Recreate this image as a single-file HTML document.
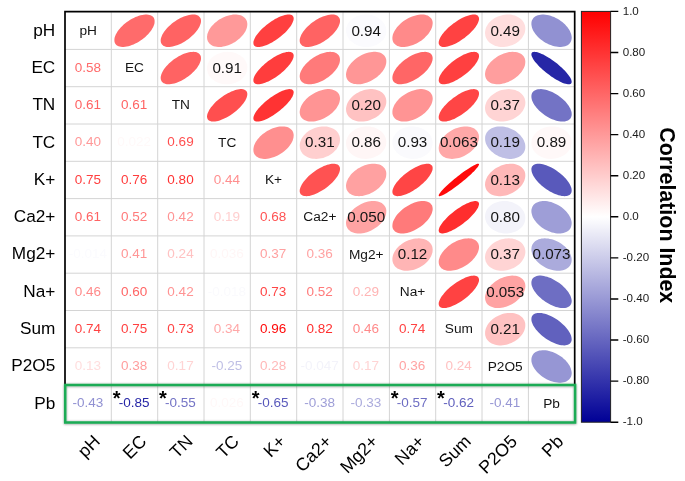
<!DOCTYPE html><html><head><meta charset="utf-8"><title>Correlation Plot</title>
<style>html,body{margin:0;padding:0;background:#fff}svg{display:block}text{font-family:"Liberation Sans",Arial,sans-serif}</style></head><body>
<svg width="685" height="481" viewBox="0 0 685 481">
<rect width="685" height="481" fill="#fff"/>
<defs><linearGradient id="cb" x1="0" y1="0" x2="0" y2="1"><stop offset="0" stop-color="#ff0000"/><stop offset="0.5" stop-color="#ffffff"/><stop offset="1" stop-color="#000096"/></linearGradient><filter id="sh" x="-5%" y="-30%" width="110%" height="160%"><feDropShadow dx="0" dy="0.4" stdDeviation="1.3" flood-color="#000" flood-opacity="0.45"/></filter></defs>
<path d="M111.3,12.1V422.4M65.0,49.4H574.7M157.7,12.1V422.4M65.0,86.7H574.7M204.0,12.1V422.4M65.0,124.0H574.7M250.3,12.1V422.4M65.0,161.3H574.7M296.7,12.1V422.4M65.0,198.6H574.7M343.0,12.1V422.4M65.0,235.9H574.7M389.4,12.1V422.4M65.0,273.2H574.7M435.7,12.1V422.4M65.0,310.5H574.7M482.0,12.1V422.4M65.0,347.8H574.7M528.4,12.1V422.4M65.0,385.1H574.7" stroke="#d4d4d4" stroke-width="1" fill="none"/>
<polygon points="152.4,16.3 151.5,15.7 150.5,15.3 149.4,14.9 148.2,14.7 146.8,14.5 145.4,14.5 143.9,14.7 142.3,14.9 140.6,15.3 138.9,15.8 137.2,16.4 135.5,17.1 133.7,17.9 132.0,18.8 130.2,19.8 128.5,20.9 126.9,22.1 125.3,23.3 123.7,24.6 122.3,25.9 120.9,27.3 119.7,28.7 118.6,30.1 117.5,31.5 116.7,32.9 115.9,34.3 115.3,35.7 114.8,37.0 114.5,38.3 114.4,39.5 114.4,40.7 114.5,41.8 114.8,42.8 115.3,43.7 115.9,44.5 116.6,45.2 117.5,45.8 118.5,46.2 119.6,46.6 120.8,46.8 122.2,47.0 123.6,47.0 125.1,46.8 126.7,46.6 128.4,46.2 130.1,45.7 131.8,45.1 133.5,44.4 135.3,43.6 137.1,42.7 138.8,41.7 140.5,40.6 142.1,39.4 143.7,38.2 145.3,36.9 146.7,35.6 148.1,34.2 149.3,32.8 150.4,31.4 151.5,30.0 152.3,28.6 153.1,27.2 153.7,25.8 154.2,24.5 154.5,23.2 154.6,22.0 154.6,20.8 154.5,19.7 154.2,18.7 153.8,17.8 153.2,17.0" fill="#ff6b6b"/>
<polygon points="198.9,16.2 198.1,15.6 197.1,15.2 196.0,14.8 194.8,14.6 193.5,14.5 192.1,14.6 190.5,14.7 189.0,15.0 187.3,15.4 185.6,15.9 183.9,16.5 182.2,17.3 180.4,18.1 178.7,19.0 176.9,20.1 175.2,21.2 173.6,22.3 171.9,23.6 170.4,24.9 168.9,26.2 167.6,27.6 166.3,29.0 165.1,30.4 164.1,31.8 163.2,33.2 162.4,34.6 161.8,36.0 161.3,37.3 160.9,38.6 160.7,39.8 160.7,40.9 160.8,42.0 161.1,43.0 161.5,43.8 162.0,44.6 162.8,45.3 163.6,45.9 164.6,46.3 165.7,46.7 166.9,46.9 168.2,47.0 169.6,46.9 171.1,46.8 172.7,46.5 174.3,46.1 176.0,45.6 177.8,45.0 179.5,44.2 181.3,43.4 183.0,42.5 184.8,41.4 186.5,40.3 188.1,39.2 189.7,37.9 191.3,36.6 192.7,35.3 194.1,33.9 195.4,32.5 196.6,31.1 197.6,29.7 198.5,28.3 199.3,26.9 199.9,25.5 200.4,24.2 200.8,22.9 201.0,21.7 201.0,20.6 200.9,19.5 200.6,18.5 200.2,17.7 199.6,16.9" fill="#ff6363"/>
<polygon points="244.0,17.2 243.0,16.5 241.9,15.8 240.6,15.3 239.2,15.0 237.8,14.7 236.3,14.5 234.7,14.5 233.0,14.6 231.3,14.9 229.6,15.2 227.8,15.7 226.0,16.3 224.3,17.0 222.6,17.8 220.9,18.7 219.2,19.6 217.6,20.7 216.1,21.9 214.7,23.1 213.4,24.4 212.1,25.7 211.0,27.0 210.0,28.4 209.2,29.8 208.5,31.3 207.9,32.7 207.4,34.1 207.2,35.4 207.0,36.8 207.1,38.1 207.2,39.3 207.6,40.5 208.0,41.6 208.7,42.6 209.4,43.5 210.3,44.3 211.3,45.0 212.5,45.7 213.7,46.2 215.1,46.5 216.6,46.8 218.1,47.0 219.7,47.0 221.4,46.9 223.1,46.6 224.8,46.3 226.5,45.8 228.3,45.2 230.1,44.5 231.8,43.7 233.5,42.8 235.1,41.9 236.7,40.8 238.2,39.6 239.6,38.4 241.0,37.1 242.2,35.8 243.3,34.5 244.3,33.1 245.2,31.7 245.9,30.2 246.5,28.8 246.9,27.4 247.2,26.1 247.3,24.7 247.3,23.4 247.1,22.2 246.8,21.0 246.3,19.9 245.7,18.9 244.9,18.0" fill="#ff9999"/>
<polygon points="292.4,15.6 291.7,15.1 290.8,14.8 289.9,14.6 288.8,14.5 287.6,14.6 286.3,14.7 284.9,15.0 283.4,15.4 281.8,16.0 280.2,16.6 278.5,17.3 276.8,18.2 275.0,19.1 273.3,20.2 271.5,21.3 269.8,22.5 268.1,23.7 266.4,25.0 264.8,26.4 263.2,27.7 261.8,29.1 260.4,30.6 259.1,32.0 257.9,33.4 256.9,34.8 255.9,36.1 255.1,37.4 254.5,38.7 254.0,39.9 253.6,41.0 253.4,42.1 253.4,43.1 253.5,43.9 253.7,44.7 254.1,45.4 254.7,45.9 255.4,46.4 256.2,46.7 257.1,46.9 258.2,47.0 259.4,46.9 260.7,46.8 262.2,46.5 263.7,46.1 265.2,45.5 266.9,44.9 268.5,44.2 270.3,43.3 272.0,42.4 273.8,41.3 275.5,40.2 277.3,39.0 279.0,37.8 280.6,36.5 282.3,35.1 283.8,33.8 285.3,32.4 286.7,30.9 287.9,29.5 289.1,28.1 290.2,26.7 291.1,25.4 291.9,24.1 292.5,22.8 293.0,21.6 293.4,20.5 293.6,19.4 293.7,18.4 293.6,17.6 293.3,16.8 292.9,16.1" fill="#ff4040"/>
<polygon points="337.9,16.2 337.1,15.6 336.1,15.2 335.0,14.8 333.8,14.6 332.5,14.5 331.1,14.6 329.6,14.7 328.0,15.0 326.3,15.4 324.7,15.9 322.9,16.5 321.2,17.3 319.4,18.1 317.7,19.0 315.9,20.1 314.2,21.2 312.6,22.3 310.9,23.6 309.4,24.9 307.9,26.2 306.6,27.6 305.3,29.0 304.1,30.4 303.1,31.8 302.2,33.2 301.4,34.6 300.8,36.0 300.3,37.3 299.9,38.6 299.7,39.8 299.7,40.9 299.8,42.0 300.1,43.0 300.5,43.8 301.1,44.6 301.8,45.3 302.6,45.9 303.6,46.3 304.7,46.7 305.9,46.9 307.2,47.0 308.6,46.9 310.1,46.8 311.7,46.5 313.4,46.1 315.0,45.6 316.8,45.0 318.5,44.2 320.3,43.4 322.0,42.5 323.8,41.4 325.5,40.3 327.1,39.2 328.8,37.9 330.3,36.6 331.8,35.3 333.1,33.9 334.4,32.5 335.6,31.1 336.6,29.7 337.5,28.3 338.3,26.9 338.9,25.5 339.4,24.2 339.8,22.9 340.0,21.7 340.0,20.6 339.9,19.5 339.6,18.5 339.2,17.7 338.6,16.9" fill="#ff6363"/>
<polygon points="380.3,19.4 379.0,18.4 377.6,17.5 376.1,16.8 374.6,16.1 372.9,15.5 371.3,15.1 369.5,14.8 367.8,14.6 366.0,14.5 364.3,14.6 362.5,14.8 360.8,15.0 359.2,15.5 357.5,16.0 356.0,16.6 354.5,17.4 353.1,18.2 351.8,19.2 350.7,20.2 349.6,21.4 348.7,22.5 347.9,23.8 347.2,25.1 346.7,26.4 346.3,27.8 346.1,29.2 346.0,30.6 346.1,32.1 346.4,33.5 346.8,34.8 347.3,36.2 348.0,37.5 348.8,38.8 349.8,40.0 350.8,41.1 352.0,42.1 353.3,43.1 354.7,44.0 356.2,44.7 357.8,45.4 359.4,46.0 361.1,46.4 362.8,46.7 364.6,46.9 366.3,47.0 368.1,46.9 369.8,46.7 371.5,46.5 373.2,46.0 374.8,45.5 376.4,44.9 377.9,44.1 379.3,43.3 380.5,42.3 381.7,41.3 382.8,40.1 383.7,39.0 384.5,37.7 385.2,36.4 385.7,35.1 386.1,33.7 386.3,32.3 386.3,30.9 386.3,29.4 386.0,28.0 385.6,26.7 385.1,25.3 384.4,24.0 383.6,22.7 382.6,21.5 381.5,20.4" fill="#fbfbfe"/>
<polygon points="429.7,16.9 428.8,16.2 427.7,15.6 426.4,15.2 425.1,14.8 423.7,14.6 422.2,14.5 420.6,14.6 419.0,14.7 417.3,15.0 415.6,15.4 413.8,15.9 412.1,16.5 410.3,17.3 408.6,18.1 406.9,19.0 405.2,20.0 403.6,21.1 402.0,22.3 400.6,23.6 399.2,24.9 397.9,26.2 396.8,27.6 395.8,29.0 394.8,30.4 394.1,31.8 393.4,33.2 392.9,34.6 392.6,36.0 392.4,37.3 392.4,38.5 392.5,39.8 392.8,40.9 393.2,42.0 393.7,42.9 394.5,43.8 395.3,44.6 396.3,45.3 397.4,45.9 398.6,46.3 399.9,46.7 401.3,46.9 402.8,47.0 404.4,46.9 406.1,46.8 407.8,46.5 409.5,46.1 411.2,45.6 413.0,45.0 414.7,44.2 416.5,43.4 418.2,42.5 419.8,41.5 421.5,40.4 423.0,39.2 424.5,37.9 425.8,36.6 427.1,35.3 428.3,33.9 429.3,32.5 430.2,31.1 431.0,29.7 431.6,28.3 432.1,26.9 432.4,25.5 432.6,24.2 432.7,23.0 432.6,21.7 432.3,20.6 431.9,19.5 431.3,18.6 430.6,17.7" fill="#ff8a8a"/>
<polygon points="477.7,15.6 477.0,15.2 476.1,14.8 475.1,14.6 474.0,14.5 472.8,14.6 471.5,14.7 470.1,15.0 468.6,15.4 467.0,15.9 465.4,16.5 463.7,17.3 462.0,18.1 460.2,19.1 458.5,20.1 456.7,21.2 455.0,22.4 453.3,23.6 451.6,24.9 450.0,26.2 448.4,27.6 447.0,29.0 445.6,30.4 444.3,31.8 443.2,33.3 442.1,34.6 441.2,36.0 440.4,37.3 439.8,38.6 439.3,39.8 438.9,40.9 438.7,42.0 438.7,43.0 438.8,43.9 439.1,44.6 439.5,45.3 440.1,45.9 440.8,46.3 441.6,46.7 442.6,46.9 443.7,47.0 444.9,46.9 446.2,46.8 447.6,46.5 449.1,46.1 450.7,45.6 452.3,45.0 454.0,44.2 455.8,43.4 457.5,42.4 459.3,41.4 461.0,40.3 462.8,39.1 464.5,37.9 466.1,36.6 467.7,35.3 469.3,33.9 470.7,32.5 472.1,31.1 473.4,29.7 474.6,28.2 475.6,26.9 476.5,25.5 477.3,24.2 477.9,22.9 478.4,21.7 478.8,20.6 479.0,19.5 479.0,18.5 478.9,17.6 478.6,16.9 478.2,16.2" fill="#ff4242"/>
<polygon points="520.3,18.6 519.1,17.7 517.8,16.9 516.4,16.2 514.9,15.6 513.3,15.2 511.7,14.8 510.0,14.6 508.3,14.5 506.5,14.6 504.8,14.7 503.0,15.0 501.3,15.4 499.5,15.9 497.9,16.5 496.3,17.3 494.7,18.1 493.3,19.0 491.9,20.0 490.6,21.2 489.5,22.3 488.4,23.6 487.5,24.9 486.7,26.2 486.1,27.6 485.6,29.0 485.3,30.4 485.1,31.8 485.0,33.2 485.2,34.6 485.4,36.0 485.8,37.3 486.4,38.6 487.1,39.8 488.0,40.9 488.9,42.0 490.0,42.9 491.3,43.8 492.6,44.6 494.0,45.3 495.5,45.9 497.1,46.3 498.7,46.7 500.4,46.9 502.1,47.0 503.9,46.9 505.6,46.8 507.4,46.5 509.1,46.1 510.8,45.6 512.5,45.0 514.1,44.2 515.7,43.4 517.1,42.5 518.5,41.5 519.8,40.3 520.9,39.2 522.0,37.9 522.9,36.6 523.6,35.3 524.3,33.9 524.8,32.5 525.1,31.1 525.3,29.7 525.3,28.3 525.2,26.9 525.0,25.5 524.5,24.2 524.0,22.9 523.3,21.7 522.4,20.6 521.4,19.5" fill="#ffdede"/>
<polygon points="562.3,22.1 560.8,20.9 559.2,19.8 557.5,18.8 555.8,17.9 554.1,17.1 552.3,16.4 550.6,15.8 548.8,15.3 547.1,14.9 545.4,14.7 543.7,14.5 542.2,14.5 540.6,14.7 539.2,14.9 537.9,15.3 536.6,15.7 535.5,16.3 534.5,17.0 533.6,17.8 532.9,18.7 532.3,19.7 531.8,20.8 531.5,22.0 531.4,23.2 531.4,24.5 531.6,25.8 531.9,27.2 532.3,28.6 532.9,30.0 533.7,31.4 534.6,32.8 535.6,34.2 536.7,35.6 538.0,36.9 539.3,38.2 540.8,39.4 542.3,40.6 543.9,41.7 545.5,42.7 547.2,43.6 549.0,44.4 550.7,45.1 552.5,45.7 554.2,46.2 556.0,46.6 557.7,46.8 559.3,47.0 560.9,47.0 562.4,46.8 563.9,46.6 565.2,46.2 566.4,45.8 567.6,45.2 568.6,44.5 569.4,43.7 570.2,42.8 570.8,41.8 571.2,40.7 571.5,39.5 571.7,38.3 571.7,37.0 571.5,35.7 571.2,34.3 570.7,32.9 570.1,31.5 569.4,30.1 568.5,28.7 567.5,27.3 566.3,25.9 565.1,24.6 563.7,23.3" fill="#9191d2"/>
<polygon points="198.9,53.5 198.1,52.9 197.1,52.5 196.0,52.1 194.8,51.9 193.5,51.8 192.1,51.9 190.5,52.0 189.0,52.3 187.3,52.7 185.6,53.2 183.9,53.8 182.2,54.6 180.4,55.4 178.7,56.3 176.9,57.4 175.2,58.5 173.6,59.6 171.9,60.9 170.4,62.2 168.9,63.5 167.6,64.9 166.3,66.3 165.1,67.7 164.1,69.1 163.2,70.5 162.4,71.9 161.8,73.3 161.3,74.6 160.9,75.9 160.7,77.1 160.7,78.2 160.8,79.3 161.1,80.3 161.5,81.1 162.0,81.9 162.8,82.6 163.6,83.2 164.6,83.6 165.7,84.0 166.9,84.2 168.2,84.3 169.6,84.2 171.1,84.1 172.7,83.8 174.3,83.4 176.0,82.9 177.8,82.3 179.5,81.5 181.3,80.7 183.0,79.8 184.8,78.7 186.5,77.6 188.1,76.5 189.7,75.2 191.3,73.9 192.7,72.6 194.1,71.2 195.4,69.8 196.6,68.4 197.6,67.0 198.5,65.6 199.3,64.2 199.9,62.8 200.4,61.5 200.8,60.2 201.0,59.0 201.0,57.9 200.9,56.8 200.6,55.8 200.2,55.0 199.6,54.2" fill="#ff6363"/>
<polygon points="241.6,56.5 240.3,55.5 238.9,54.7 237.4,53.9 235.9,53.3 234.3,52.7 232.6,52.3 230.9,52.0 229.2,51.9 227.4,51.8 225.6,51.9 223.9,52.1 222.2,52.4 220.5,52.9 218.9,53.4 217.3,54.1 215.8,54.9 214.4,55.7 213.1,56.7 211.9,57.8 210.8,58.9 209.8,60.1 209.0,61.4 208.3,62.7 207.8,64.0 207.4,65.4 207.1,66.8 207.0,68.2 207.1,69.6 207.3,71.0 207.7,72.4 208.2,73.8 208.8,75.1 209.6,76.3 210.5,77.5 211.6,78.6 212.8,79.6 214.1,80.6 215.4,81.4 216.9,82.2 218.5,82.8 220.1,83.4 221.7,83.8 223.5,84.1 225.2,84.2 227.0,84.3 228.7,84.2 230.5,84.0 232.2,83.7 233.9,83.2 235.5,82.7 237.1,82.0 238.6,81.2 240.0,80.4 241.3,79.4 242.5,78.3 243.6,77.2 244.5,76.0 245.4,74.7 246.0,73.4 246.6,72.1 247.0,70.7 247.2,69.3 247.3,67.9 247.3,66.5 247.1,65.1 246.7,63.7 246.2,62.3 245.5,61.0 244.7,59.8 243.8,58.6 242.8,57.5" fill="#fff9f9"/>
<polygon points="292.4,52.8 291.7,52.4 290.9,52.1 290.0,51.9 288.9,51.8 287.7,51.9 286.4,52.1 285.0,52.4 283.5,52.8 281.9,53.3 280.3,54.0 278.6,54.7 276.9,55.6 275.2,56.5 273.4,57.6 271.7,58.7 269.9,59.9 268.2,61.1 266.5,62.4 264.9,63.8 263.4,65.2 261.9,66.6 260.5,68.0 259.2,69.4 258.0,70.8 256.9,72.2 256.0,73.5 255.2,74.8 254.5,76.1 254.0,77.3 253.6,78.4 253.4,79.5 253.4,80.4 253.4,81.3 253.7,82.1 254.1,82.7 254.6,83.3 255.3,83.7 256.1,84.0 257.1,84.2 258.1,84.3 259.3,84.2 260.6,84.0 262.0,83.7 263.5,83.3 265.1,82.8 266.7,82.1 268.4,81.4 270.1,80.5 271.9,79.6 273.6,78.5 275.4,77.4 277.1,76.2 278.8,75.0 280.5,73.7 282.1,72.3 283.7,70.9 285.2,69.5 286.5,68.1 287.8,66.7 289.0,65.3 290.1,63.9 291.0,62.6 291.8,61.3 292.5,60.0 293.0,58.8 293.4,57.7 293.6,56.6 293.7,55.7 293.6,54.8 293.3,54.0 293.0,53.4" fill="#ff3d3d"/>
<polygon points="337.4,53.9 336.5,53.3 335.4,52.7 334.3,52.3 333.0,52.0 331.6,51.9 330.1,51.8 328.6,51.9 327.0,52.1 325.3,52.4 323.6,52.9 321.8,53.4 320.1,54.1 318.3,54.9 316.6,55.7 314.9,56.7 313.2,57.8 311.5,58.9 310.0,60.1 308.5,61.4 307.1,62.7 305.8,64.0 304.6,65.4 303.5,66.8 302.5,68.2 301.7,69.7 301.0,71.1 300.4,72.4 300.0,73.8 299.8,75.1 299.7,76.3 299.8,77.5 300.0,78.6 300.3,79.7 300.8,80.6 301.5,81.4 302.3,82.2 303.2,82.8 304.3,83.4 305.4,83.8 306.7,84.1 308.1,84.2 309.6,84.3 311.1,84.2 312.7,84.0 314.4,83.7 316.1,83.2 317.9,82.7 319.6,82.0 321.4,81.2 323.1,80.4 324.8,79.4 326.5,78.3 328.2,77.2 329.7,76.0 331.2,74.7 332.6,73.4 333.9,72.1 335.1,70.7 336.2,69.3 337.2,67.9 338.0,66.4 338.7,65.0 339.3,63.7 339.7,62.3 339.9,61.0 340.0,59.8 339.9,58.6 339.7,57.5 339.4,56.4 338.9,55.5 338.2,54.7" fill="#ff7a7a"/>
<polygon points="383.1,54.4 382.1,53.7 381.0,53.1 379.7,52.6 378.3,52.2 376.9,52.0 375.4,51.8 373.8,51.8 372.1,51.9 370.4,52.2 368.7,52.5 366.9,53.0 365.2,53.6 363.4,54.3 361.7,55.1 360.0,56.0 358.3,57.0 356.8,58.1 355.2,59.2 353.8,60.5 352.5,61.7 351.2,63.1 350.1,64.4 349.1,65.8 348.2,67.2 347.5,68.6 346.9,70.1 346.5,71.5 346.2,72.8 346.0,74.2 346.1,75.4 346.2,76.7 346.5,77.8 347.0,78.9 347.6,79.9 348.4,80.9 349.3,81.7 350.3,82.4 351.4,83.0 352.7,83.5 354.0,83.9 355.5,84.1 357.0,84.3 358.6,84.3 360.3,84.2 362.0,83.9 363.7,83.6 365.4,83.1 367.2,82.5 369.0,81.8 370.7,81.0 372.4,80.1 374.0,79.1 375.6,78.0 377.1,76.9 378.6,75.6 379.9,74.4 381.1,73.0 382.3,71.7 383.3,70.3 384.1,68.9 384.9,67.5 385.5,66.0 385.9,64.6 386.2,63.3 386.3,61.9 386.3,60.7 386.2,59.4 385.8,58.3 385.4,57.2 384.8,56.2 384.0,55.2" fill="#ff9696"/>
<polygon points="430.6,53.5 429.7,53.0 428.7,52.5 427.6,52.2 426.4,51.9 425.1,51.8 423.6,51.9 422.1,52.0 420.5,52.3 418.9,52.7 417.2,53.2 415.5,53.8 413.7,54.5 412.0,55.3 410.2,56.3 408.5,57.3 406.8,58.4 405.1,59.6 403.5,60.8 402.0,62.1 400.5,63.4 399.1,64.8 397.9,66.2 396.7,67.6 395.7,69.0 394.8,70.4 394.0,71.8 393.4,73.2 392.9,74.5 392.6,75.8 392.4,77.0 392.4,78.1 392.5,79.2 392.8,80.2 393.2,81.1 393.8,81.9 394.5,82.6 395.3,83.1 396.3,83.6 397.4,83.9 398.7,84.2 400.0,84.3 401.4,84.2 402.9,84.1 404.5,83.8 406.1,83.4 407.8,82.9 409.6,82.3 411.3,81.6 413.1,80.8 414.8,79.8 416.6,78.8 418.3,77.7 419.9,76.5 421.5,75.3 423.1,74.0 424.5,72.7 425.9,71.3 427.2,69.9 428.3,68.5 429.3,67.1 430.2,65.7 431.0,64.3 431.6,62.9 432.1,61.6 432.5,60.3 432.6,59.1 432.7,58.0 432.5,56.9 432.3,55.9 431.8,55.0 431.3,54.2" fill="#ff6666"/>
<polygon points="477.7,52.9 477.0,52.4 476.2,52.1 475.2,51.9 474.1,51.8 472.9,51.9 471.6,52.0 470.2,52.3 468.7,52.7 467.2,53.3 465.5,53.9 463.8,54.6 462.1,55.5 460.4,56.4 458.6,57.5 456.9,58.6 455.1,59.8 453.4,61.0 451.7,62.3 450.1,63.7 448.6,65.0 447.1,66.4 445.7,67.9 444.4,69.3 443.3,70.7 442.2,72.1 441.3,73.4 440.5,74.7 439.8,76.0 439.3,77.2 439.0,78.3 438.8,79.4 438.7,80.4 438.8,81.2 439.1,82.0 439.5,82.7 440.0,83.2 440.7,83.7 441.5,84.0 442.5,84.2 443.6,84.3 444.8,84.2 446.1,84.1 447.5,83.8 449.0,83.4 450.6,82.8 452.2,82.2 453.9,81.5 455.6,80.6 457.3,79.7 459.1,78.6 460.9,77.5 462.6,76.3 464.3,75.1 466.0,73.8 467.6,72.4 469.2,71.1 470.6,69.7 472.0,68.2 473.3,66.8 474.5,65.4 475.5,64.0 476.4,62.7 477.2,61.4 477.9,60.1 478.4,58.9 478.8,57.8 479.0,56.7 479.0,55.7 478.9,54.9 478.7,54.1 478.3,53.4" fill="#ff4040"/>
<polygon points="521.9,54.6 520.9,53.8 519.7,53.2 518.5,52.7 517.1,52.3 515.6,52.0 514.1,51.9 512.5,51.8 510.8,51.9 509.1,52.1 507.4,52.5 505.6,52.9 503.8,53.5 502.1,54.2 500.4,55.0 498.7,55.8 497.1,56.8 495.5,57.9 494.0,59.0 492.6,60.2 491.2,61.5 490.0,62.8 488.9,64.2 487.9,65.6 487.1,67.0 486.4,68.4 485.8,69.8 485.4,71.2 485.2,72.6 485.0,73.9 485.1,75.2 485.3,76.4 485.6,77.6 486.1,78.7 486.8,79.8 487.5,80.7 488.5,81.5 489.5,82.3 490.7,82.9 491.9,83.4 493.3,83.8 494.8,84.1 496.3,84.2 497.9,84.3 499.6,84.2 501.3,84.0 503.0,83.6 504.8,83.2 506.5,82.6 508.3,81.9 510.0,81.1 511.7,80.3 513.3,79.3 514.9,78.2 516.4,77.1 517.8,75.9 519.2,74.6 520.4,73.3 521.5,71.9 522.4,70.5 523.3,69.1 524.0,67.7 524.6,66.3 525.0,64.9 525.2,63.5 525.3,62.2 525.3,60.9 525.1,59.7 524.8,58.5 524.3,57.4 523.6,56.3 522.9,55.4" fill="#ff9e9e"/>
<polygon points="557.1,63.6 555.3,62.3 553.6,61.0 551.8,59.7 550.1,58.5 548.3,57.4 546.6,56.4 544.9,55.5 543.3,54.6 541.7,53.9 540.2,53.2 538.8,52.7 537.5,52.3 536.3,52.0 535.2,51.9 534.2,51.8 533.4,51.9 532.7,52.1 532.1,52.4 531.7,52.9 531.5,53.5 531.4,54.1 531.4,54.9 531.6,55.8 532.0,56.8 532.5,57.8 533.1,59.0 533.9,60.2 534.8,61.4 535.9,62.7 537.1,64.1 538.3,65.5 539.7,66.9 541.2,68.3 542.7,69.7 544.3,71.1 546.0,72.5 547.7,73.8 549.5,75.1 551.2,76.4 553.0,77.6 554.7,78.7 556.4,79.7 558.1,80.6 559.8,81.5 561.3,82.2 562.8,82.9 564.2,83.4 565.6,83.8 566.8,84.1 567.9,84.2 568.8,84.3 569.7,84.2 570.4,84.0 570.9,83.7 571.3,83.2 571.6,82.6 571.7,82.0 571.6,81.2 571.4,80.3 571.1,79.3 570.6,78.3 569.9,77.1 569.1,75.9 568.2,74.7 567.2,73.4 566.0,72.0 564.7,70.6 563.3,69.2 561.9,67.8 560.3,66.4 558.7,65.0" fill="#2626a6"/>
<polygon points="245.7,90.4 244.9,89.9 244.0,89.6 243.0,89.3 241.9,89.1 240.6,89.1 239.3,89.2 237.8,89.5 236.3,89.8 234.7,90.3 233.0,90.9 231.3,91.6 229.6,92.4 227.8,93.3 226.1,94.2 224.3,95.3 222.6,96.5 220.9,97.7 219.2,99.0 217.7,100.3 216.1,101.6 214.7,103.0 213.4,104.4 212.2,105.9 211.0,107.3 210.0,108.7 209.2,110.0 208.5,111.4 207.9,112.7 207.4,113.9 207.2,115.1 207.0,116.2 207.1,117.2 207.2,118.1 207.6,118.9 208.0,119.7 208.6,120.3 209.4,120.8 210.3,121.1 211.3,121.4 212.5,121.6 213.7,121.6 215.1,121.5 216.6,121.2 218.1,120.9 219.7,120.4 221.3,119.8 223.1,119.1 224.8,118.3 226.5,117.4 228.3,116.5 230.0,115.4 231.8,114.2 233.5,113.0 235.1,111.7 236.7,110.4 238.2,109.1 239.6,107.7 241.0,106.3 242.2,104.8 243.3,103.4 244.3,102.0 245.2,100.7 245.9,99.3 246.5,98.0 246.9,96.8 247.2,95.6 247.3,94.5 247.3,93.5 247.1,92.6 246.8,91.8 246.3,91.0" fill="#ff4f4f"/>
<polygon points="292.6,90.0 292.0,89.6 291.2,89.3 290.3,89.2 289.3,89.1 288.2,89.2 286.9,89.5 285.5,89.8 284.1,90.3 282.5,90.8 280.9,91.5 279.3,92.3 277.6,93.2 275.8,94.2 274.1,95.3 272.3,96.4 270.6,97.6 268.8,98.9 267.1,100.2 265.5,101.6 263.9,103.0 262.4,104.4 261.0,105.8 259.7,107.2 258.4,108.6 257.3,110.0 256.3,111.3 255.5,112.6 254.8,113.8 254.2,115.0 253.8,116.1 253.5,117.1 253.4,118.1 253.4,118.9 253.6,119.6 253.9,120.2 254.4,120.7 255.0,121.1 255.8,121.4 256.7,121.5 257.7,121.6 258.9,121.5 260.1,121.2 261.5,120.9 263.0,120.4 264.5,119.9 266.1,119.2 267.8,118.4 269.5,117.5 271.2,116.5 273.0,115.4 274.7,114.3 276.5,113.1 278.2,111.8 279.9,110.5 281.5,109.1 283.1,107.7 284.6,106.3 286.0,104.9 287.4,103.5 288.6,102.1 289.7,100.7 290.7,99.4 291.5,98.1 292.3,96.9 292.8,95.7 293.3,94.6 293.5,93.6 293.7,92.6 293.6,91.8 293.5,91.1 293.1,90.5" fill="#ff3333"/>
<polygon points="336.8,91.7 335.8,91.0 334.7,90.4 333.4,89.9 332.1,89.5 330.7,89.3 329.1,89.1 327.5,89.1 325.9,89.3 324.2,89.5 322.5,89.9 320.7,90.4 318.9,90.9 317.2,91.7 315.5,92.5 313.8,93.4 312.1,94.4 310.5,95.5 309.0,96.6 307.6,97.8 306.2,99.1 305.0,100.4 303.8,101.8 302.8,103.2 302.0,104.6 301.2,106.0 300.6,107.4 300.2,108.8 299.9,110.2 299.7,111.5 299.7,112.8 299.9,114.0 300.2,115.2 300.6,116.3 301.2,117.3 302.0,118.2 302.9,119.0 303.9,119.7 305.0,120.3 306.3,120.8 307.6,121.2 309.0,121.4 310.6,121.6 312.2,121.6 313.8,121.4 315.5,121.2 317.2,120.8 319.0,120.3 320.8,119.8 322.5,119.0 324.2,118.2 325.9,117.3 327.6,116.3 329.2,115.2 330.7,114.1 332.1,112.9 333.5,111.6 334.7,110.3 335.9,108.9 336.9,107.5 337.7,106.1 338.5,104.7 339.1,103.3 339.5,101.9 339.8,100.5 340.0,99.2 340.0,97.9 339.8,96.7 339.5,95.5 339.1,94.4 338.5,93.4 337.7,92.5" fill="#ff9494"/>
<polygon points="382.1,92.6 380.9,91.8 379.7,91.0 378.3,90.4 376.9,89.9 375.3,89.5 373.7,89.3 372.1,89.1 370.4,89.1 368.6,89.2 366.9,89.5 365.1,89.8 363.4,90.3 361.6,90.9 359.9,91.6 358.3,92.4 356.7,93.3 355.2,94.3 353.8,95.3 352.4,96.5 351.2,97.7 350.1,99.0 349.1,100.3 348.2,101.7 347.5,103.1 346.9,104.5 346.5,105.9 346.2,107.3 346.0,108.7 346.1,110.1 346.2,111.4 346.6,112.7 347.0,113.9 347.6,115.1 348.4,116.2 349.3,117.2 350.3,118.1 351.5,118.9 352.7,119.7 354.1,120.3 355.5,120.8 357.1,121.2 358.7,121.4 360.3,121.6 362.0,121.6 363.7,121.5 365.5,121.2 367.3,120.9 369.0,120.4 370.7,119.8 372.4,119.1 374.1,118.3 375.7,117.4 377.2,116.4 378.6,115.4 379.9,114.2 381.2,113.0 382.3,111.7 383.3,110.4 384.2,109.0 384.9,107.6 385.5,106.2 385.9,104.8 386.2,103.4 386.3,102.0 386.3,100.6 386.1,99.3 385.8,98.0 385.3,96.8 384.7,95.6 384.0,94.5 383.1,93.5" fill="#ffc2c2"/>
<polygon points="429.5,91.7 428.5,91.0 427.4,90.4 426.1,89.9 424.8,89.5 423.3,89.3 421.8,89.1 420.2,89.1 418.6,89.3 416.9,89.5 415.1,89.9 413.4,90.4 411.6,90.9 409.9,91.7 408.1,92.5 406.4,93.4 404.8,94.4 403.2,95.5 401.7,96.6 400.2,97.8 398.9,99.1 397.6,100.4 396.5,101.8 395.5,103.2 394.6,104.6 393.9,106.0 393.3,107.4 392.8,108.8 392.5,110.2 392.4,111.5 392.4,112.8 392.5,114.0 392.9,115.2 393.3,116.3 393.9,117.3 394.7,118.2 395.5,119.0 396.5,119.7 397.7,120.3 398.9,120.8 400.3,121.2 401.7,121.4 403.2,121.6 404.8,121.6 406.5,121.4 408.2,121.2 409.9,120.8 411.7,120.3 413.4,119.8 415.2,119.0 416.9,118.2 418.6,117.3 420.3,116.3 421.9,115.2 423.4,114.1 424.8,112.9 426.2,111.6 427.4,110.3 428.5,108.9 429.5,107.5 430.4,106.1 431.2,104.7 431.8,103.3 432.2,101.9 432.5,100.5 432.7,99.2 432.7,97.9 432.5,96.7 432.2,95.5 431.7,94.4 431.1,93.4 430.4,92.5" fill="#ff9494"/>
<polygon points="477.6,90.3 476.9,89.8 476.0,89.5 475.0,89.2 473.9,89.1 472.7,89.2 471.4,89.3 470.0,89.6 468.5,90.0 466.9,90.5 465.2,91.1 463.5,91.8 461.8,92.6 460.1,93.6 458.3,94.6 456.6,95.7 454.8,96.9 453.1,98.1 451.5,99.4 449.8,100.7 448.3,102.1 446.9,103.5 445.5,104.9 444.2,106.3 443.1,107.7 442.0,109.1 441.1,110.5 440.4,111.8 439.7,113.1 439.3,114.3 438.9,115.4 438.7,116.5 438.7,117.5 438.8,118.4 439.1,119.2 439.5,119.9 440.1,120.4 440.8,120.9 441.7,121.2 442.7,121.5 443.8,121.6 445.0,121.5 446.3,121.4 447.8,121.1 449.3,120.7 450.8,120.2 452.5,119.6 454.2,118.9 455.9,118.1 457.6,117.1 459.4,116.1 461.2,115.0 462.9,113.8 464.6,112.6 466.3,111.3 467.9,110.0 469.4,108.6 470.9,107.2 472.2,105.8 473.5,104.4 474.6,103.0 475.7,101.6 476.6,100.2 477.4,98.9 478.0,97.6 478.5,96.4 478.8,95.3 479.0,94.2 479.0,93.2 478.9,92.3 478.6,91.5 478.2,90.8" fill="#ff4545"/>
<polygon points="520.6,92.9 519.4,92.1 518.1,91.3 516.7,90.7 515.2,90.1 513.7,89.7 512.1,89.4 510.4,89.2 508.7,89.1 506.9,89.2 505.2,89.4 503.4,89.7 501.7,90.1 499.9,90.6 498.3,91.3 496.6,92.0 495.1,92.9 493.6,93.9 492.2,94.9 490.9,96.0 489.7,97.2 488.7,98.5 487.7,99.8 486.9,101.1 486.2,102.5 485.7,103.9 485.3,105.3 485.1,106.7 485.0,108.1 485.1,109.5 485.4,110.9 485.7,112.2 486.3,113.4 486.9,114.6 487.8,115.8 488.7,116.8 489.8,117.8 491.0,118.6 492.3,119.4 493.7,120.0 495.1,120.6 496.7,121.0 498.3,121.3 500.0,121.5 501.7,121.6 503.5,121.5 505.2,121.3 507.0,121.0 508.7,120.6 510.4,120.1 512.1,119.4 513.7,118.7 515.3,117.8 516.8,116.8 518.2,115.8 519.5,114.7 520.7,113.5 521.7,112.2 522.7,110.9 523.5,109.6 524.1,108.2 524.7,106.8 525.1,105.4 525.3,104.0 525.4,102.6 525.3,101.2 525.0,99.8 524.7,98.5 524.1,97.3 523.4,96.1 522.6,94.9 521.7,93.9" fill="#ffd4d4"/>
<polygon points="561.1,97.7 559.5,96.4 557.9,95.3 556.2,94.2 554.4,93.2 552.7,92.3 550.9,91.5 549.2,90.9 547.5,90.3 545.7,89.8 544.1,89.5 542.5,89.2 540.9,89.1 539.5,89.2 538.1,89.3 536.9,89.6 535.7,89.9 534.7,90.4 533.8,91.1 533.0,91.8 532.4,92.6 531.9,93.5 531.6,94.6 531.4,95.7 531.4,96.8 531.5,98.1 531.8,99.4 532.2,100.7 532.8,102.1 533.5,103.5 534.4,104.9 535.4,106.3 536.5,107.7 537.7,109.1 539.0,110.4 540.5,111.8 542.0,113.0 543.6,114.3 545.2,115.4 546.9,116.5 548.6,117.5 550.4,118.4 552.1,119.2 553.9,119.8 555.6,120.4 557.3,120.9 559.0,121.2 560.6,121.5 562.1,121.6 563.6,121.5 564.9,121.4 566.2,121.1 567.3,120.8 568.4,120.3 569.3,119.6 570.0,118.9 570.7,118.1 571.1,117.2 571.5,116.1 571.7,115.0 571.7,113.9 571.6,112.6 571.3,111.3 570.8,110.0 570.3,108.6 569.5,107.2 568.7,105.8 567.7,104.4 566.6,103.0 565.4,101.6 564.0,100.3 562.6,98.9" fill="#7373c5"/>
<polygon points="290.6,128.9 289.6,128.2 288.5,127.6 287.3,127.1 285.9,126.8 284.5,126.5 283.0,126.4 281.4,126.4 279.8,126.6 278.1,126.8 276.3,127.2 274.6,127.7 272.8,128.3 271.1,129.1 269.3,129.9 267.6,130.8 266.0,131.8 264.4,132.9 262.8,134.1 261.4,135.3 260.0,136.6 258.8,137.9 257.6,139.3 256.6,140.7 255.7,142.1 255.0,143.5 254.3,144.9 253.9,146.3 253.6,147.7 253.4,149.0 253.4,150.3 253.5,151.5 253.8,152.7 254.2,153.7 254.8,154.7 255.5,155.6 256.4,156.4 257.4,157.1 258.5,157.7 259.8,158.2 261.1,158.5 262.5,158.8 264.0,158.9 265.6,158.9 267.3,158.7 269.0,158.5 270.7,158.1 272.4,157.6 274.2,157.0 276.0,156.2 277.7,155.4 279.4,154.5 281.0,153.5 282.6,152.4 284.2,151.2 285.6,150.0 287.0,148.7 288.2,147.4 289.4,146.0 290.4,144.6 291.3,143.2 292.1,141.8 292.7,140.4 293.1,139.0 293.5,137.6 293.6,136.3 293.7,135.0 293.5,133.8 293.2,132.6 292.8,131.6 292.2,130.6 291.5,129.7" fill="#ff8f8f"/>
<polygon points="335.4,130.1 334.2,129.3 332.9,128.5 331.5,127.9 330.1,127.4 328.5,126.9 326.9,126.6 325.2,126.5 323.5,126.4 321.8,126.5 320.0,126.7 318.3,127.0 316.5,127.4 314.8,128.0 313.1,128.7 311.5,129.4 309.9,130.3 308.4,131.3 307.0,132.3 305.7,133.5 304.5,134.7 303.4,135.9 302.5,137.2 301.7,138.6 301.0,140.0 300.4,141.4 300.0,142.8 299.8,144.2 299.7,145.6 299.8,147.0 300.0,148.3 300.3,149.6 300.9,150.9 301.5,152.1 302.3,153.2 303.2,154.2 304.3,155.2 305.5,156.0 306.8,156.8 308.2,157.4 309.6,157.9 311.2,158.4 312.8,158.7 314.5,158.8 316.2,158.9 317.9,158.8 319.7,158.6 321.4,158.3 323.2,157.9 324.9,157.3 326.6,156.6 328.2,155.9 329.8,155.0 331.3,154.0 332.7,153.0 334.0,151.8 335.2,150.6 336.3,149.4 337.2,148.1 338.0,146.7 338.7,145.3 339.3,143.9 339.7,142.5 339.9,141.1 340.0,139.7 339.9,138.3 339.7,137.0 339.4,135.7 338.8,134.4 338.2,133.2 337.4,132.1 336.5,131.1" fill="#ffcfcf"/>
<polygon points="380.7,131.0 379.4,130.0 378.0,129.2 376.6,128.5 375.0,127.8 373.4,127.3 371.8,126.9 370.0,126.6 368.3,126.5 366.5,126.4 364.8,126.5 363.0,126.7 361.3,127.1 359.6,127.5 358.0,128.1 356.4,128.7 354.9,129.5 353.5,130.4 352.2,131.4 351.0,132.4 349.9,133.6 348.9,134.8 348.1,136.1 347.4,137.4 346.8,138.7 346.4,140.1 346.1,141.5 346.0,142.9 346.1,144.4 346.3,145.8 346.6,147.1 347.1,148.5 347.8,149.8 348.6,151.0 349.5,152.2 350.5,153.3 351.7,154.3 353.0,155.3 354.3,156.1 355.8,156.8 357.3,157.5 359.0,158.0 360.6,158.4 362.3,158.7 364.1,158.8 365.8,158.9 367.6,158.8 369.3,158.6 371.1,158.2 372.7,157.8 374.4,157.2 375.9,156.6 377.4,155.8 378.9,154.9 380.2,153.9 381.4,152.9 382.5,151.7 383.5,150.5 384.3,149.2 385.0,147.9 385.6,146.6 386.0,145.2 386.2,143.8 386.3,142.4 386.3,140.9 386.1,139.5 385.7,138.2 385.2,136.8 384.6,135.5 383.8,134.3 382.9,133.1 381.9,132.0" fill="#fff6f6"/>
<polygon points="426.6,131.3 425.3,130.3 423.9,129.4 422.4,128.7 420.9,128.0 419.2,127.5 417.6,127.0 415.8,126.7 414.1,126.5 412.3,126.4 410.6,126.5 408.8,126.6 407.1,126.9 405.5,127.4 403.8,127.9 402.3,128.5 400.8,129.3 399.4,130.1 398.1,131.1 397.0,132.1 395.9,133.2 395.0,134.4 394.2,135.7 393.5,137.0 393.0,138.3 392.6,139.7 392.4,141.1 392.4,142.5 392.5,143.9 392.7,145.3 393.1,146.7 393.6,148.1 394.3,149.4 395.2,150.6 396.1,151.8 397.2,153.0 398.4,154.0 399.7,155.0 401.1,155.9 402.6,156.6 404.2,157.3 405.8,157.8 407.5,158.3 409.2,158.6 410.9,158.8 412.7,158.9 414.5,158.8 416.2,158.7 417.9,158.4 419.6,157.9 421.2,157.4 422.8,156.8 424.2,156.0 425.6,155.2 426.9,154.2 428.1,153.2 429.1,152.1 430.1,150.9 430.9,149.6 431.5,148.3 432.0,147.0 432.4,145.6 432.6,144.2 432.7,142.8 432.6,141.4 432.3,140.0 431.9,138.6 431.4,137.2 430.7,135.9 429.9,134.7 428.9,133.5 427.8,132.3" fill="#fafafd"/>
<polygon points="475.4,129.4 474.3,128.6 473.1,128.0 471.8,127.4 470.4,127.0 468.9,126.7 467.4,126.5 465.7,126.4 464.1,126.5 462.3,126.7 460.6,127.0 458.8,127.4 457.1,127.9 455.3,128.6 453.6,129.3 451.9,130.2 450.3,131.2 448.8,132.2 447.3,133.3 445.9,134.5 444.6,135.8 443.4,137.1 442.3,138.4 441.4,139.8 440.6,141.2 439.9,142.6 439.4,144.0 439.0,145.5 438.8,146.8 438.7,148.2 438.8,149.5 439.0,150.7 439.4,151.9 439.9,153.1 440.6,154.1 441.4,155.1 442.4,155.9 443.4,156.7 444.6,157.3 445.9,157.9 447.3,158.3 448.8,158.6 450.4,158.8 452.0,158.9 453.7,158.8 455.4,158.6 457.1,158.3 458.9,157.9 460.6,157.4 462.4,156.7 464.1,156.0 465.8,155.1 467.4,154.1 469.0,153.1 470.4,152.0 471.8,150.8 473.1,149.5 474.3,148.2 475.4,146.9 476.3,145.5 477.1,144.1 477.8,142.7 478.3,141.3 478.7,139.8 478.9,138.5 479.0,137.1 478.9,135.8 478.7,134.6 478.3,133.4 477.8,132.2 477.1,131.2 476.3,130.2" fill="#ffa8a8"/>
<polygon points="517.5,132.7 516.1,131.6 514.6,130.6 513.0,129.7 511.3,128.9 509.6,128.2 507.9,127.6 506.2,127.2 504.4,126.8 502.7,126.6 500.9,126.4 499.2,126.4 497.6,126.6 496.0,126.8 494.4,127.2 493.0,127.7 491.6,128.3 490.4,129.0 489.3,129.8 488.2,130.7 487.4,131.7 486.6,132.8 486.0,134.0 485.5,135.2 485.2,136.5 485.1,137.8 485.1,139.2 485.2,140.6 485.5,142.0 485.9,143.4 486.5,144.8 487.3,146.2 488.1,147.6 489.1,148.9 490.3,150.2 491.5,151.4 492.9,152.6 494.3,153.7 495.8,154.7 497.4,155.6 499.0,156.4 500.7,157.1 502.5,157.7 504.2,158.1 506.0,158.5 507.7,158.7 509.5,158.9 511.2,158.9 512.8,158.7 514.4,158.5 515.9,158.1 517.4,157.6 518.7,157.0 520.0,156.3 521.1,155.5 522.1,154.6 523.0,153.6 523.8,152.5 524.4,151.3 524.9,150.1 525.2,148.8 525.3,147.5 525.3,146.1 525.2,144.7 524.9,143.3 524.4,141.9 523.9,140.5 523.1,139.1 522.2,137.7 521.2,136.4 520.1,135.1 518.9,133.9" fill="#bfbfe5"/>
<polygon points="566.0,131.0 564.7,130.1 563.3,129.2 561.8,128.5 560.3,127.9 558.7,127.3 557.0,126.9 555.3,126.6 553.5,126.5 551.8,126.4 550.0,126.5 548.3,126.7 546.6,127.0 544.9,127.5 543.3,128.0 541.7,128.7 540.2,129.5 538.8,130.4 537.5,131.3 536.3,132.4 535.2,133.5 534.2,134.7 533.4,136.0 532.7,137.3 532.1,138.7 531.7,140.0 531.5,141.4 531.4,142.9 531.4,144.3 531.6,145.7 532.0,147.1 532.5,148.4 533.2,149.7 533.9,150.9 534.9,152.1 535.9,153.2 537.1,154.3 538.4,155.2 539.8,156.1 541.2,156.8 542.8,157.4 544.4,158.0 546.1,158.4 547.8,158.7 549.5,158.8 551.3,158.9 553.0,158.8 554.8,158.6 556.5,158.3 558.2,157.8 559.8,157.3 561.4,156.6 562.9,155.8 564.3,154.9 565.6,154.0 566.8,152.9 567.9,151.8 568.9,150.6 569.7,149.3 570.4,148.0 570.9,146.6 571.3,145.3 571.6,143.9 571.7,142.4 571.6,141.0 571.4,139.6 571.1,138.2 570.6,136.9 569.9,135.6 569.1,134.4 568.2,133.2 567.1,132.1" fill="#fff8f8"/>
<polygon points="338.3,165.1 337.6,164.6 336.6,164.2 335.6,163.9 334.5,163.8 333.2,163.7 331.8,163.8 330.4,164.0 328.8,164.4 327.2,164.8 325.5,165.4 323.8,166.1 322.1,166.9 320.4,167.8 318.6,168.8 316.8,169.8 315.1,171.0 313.4,172.2 311.8,173.5 310.2,174.8 308.7,176.1 307.3,177.5 306.0,178.9 304.7,180.4 303.6,181.8 302.6,183.2 301.8,184.5 301.1,185.9 300.5,187.2 300.1,188.4 299.8,189.6 299.7,190.7 299.7,191.7 299.9,192.6 300.3,193.5 300.7,194.2 301.4,194.8 302.1,195.3 303.1,195.7 304.1,196.0 305.2,196.1 306.5,196.2 307.9,196.1 309.3,195.9 310.9,195.5 312.5,195.1 314.2,194.5 315.9,193.8 317.6,193.0 319.3,192.1 321.1,191.1 322.9,190.1 324.6,188.9 326.3,187.7 327.9,186.4 329.5,185.1 331.0,183.8 332.4,182.4 333.7,181.0 335.0,179.5 336.1,178.1 337.1,176.7 337.9,175.4 338.6,174.0 339.2,172.7 339.6,171.5 339.9,170.3 340.0,169.2 340.0,168.2 339.8,167.3 339.4,166.4 339.0,165.7" fill="#ff5252"/>
<polygon points="382.9,166.5 381.8,165.8 380.7,165.1 379.4,164.6 378.0,164.2 376.5,163.9 375.0,163.8 373.4,163.7 371.7,163.8 370.0,164.0 368.2,164.3 366.5,164.8 364.7,165.3 363.0,166.0 361.3,166.8 359.6,167.7 357.9,168.6 356.4,169.7 354.9,170.8 353.5,172.0 352.1,173.3 350.9,174.6 349.9,176.0 348.9,177.4 348.0,178.8 347.4,180.2 346.8,181.6 346.4,183.0 346.1,184.4 346.0,185.7 346.1,187.0 346.3,188.3 346.6,189.5 347.1,190.6 347.8,191.6 348.6,192.5 349.5,193.4 350.6,194.1 351.7,194.8 353.0,195.3 354.4,195.7 355.8,196.0 357.4,196.1 359.0,196.2 360.7,196.1 362.4,195.9 364.1,195.6 365.9,195.1 367.6,194.6 369.4,193.9 371.1,193.1 372.8,192.2 374.4,191.3 376.0,190.2 377.5,189.1 378.9,187.9 380.2,186.6 381.4,185.3 382.5,183.9 383.5,182.5 384.3,181.1 385.0,179.7 385.6,178.3 386.0,176.9 386.2,175.5 386.3,174.2 386.3,172.9 386.1,171.6 385.7,170.4 385.2,169.3 384.6,168.3 383.8,167.4" fill="#ffa1a1"/>
<polygon points="431.3,164.9 430.6,164.4 429.7,164.1 428.7,163.8 427.6,163.7 426.4,163.8 425.1,163.9 423.6,164.2 422.1,164.6 420.5,165.1 418.9,165.7 417.2,166.4 415.5,167.2 413.7,168.2 412.0,169.2 410.2,170.3 408.5,171.5 406.8,172.7 405.1,174.0 403.5,175.3 402.0,176.7 400.5,178.1 399.2,179.5 397.9,180.9 396.7,182.3 395.7,183.7 394.8,185.1 394.0,186.4 393.4,187.7 392.9,188.9 392.6,190.0 392.4,191.1 392.4,192.1 392.5,193.0 392.8,193.8 393.2,194.5 393.8,195.0 394.5,195.5 395.3,195.8 396.3,196.1 397.4,196.2 398.7,196.1 400.0,196.0 401.4,195.7 402.9,195.3 404.5,194.8 406.1,194.2 407.8,193.5 409.6,192.7 411.3,191.7 413.1,190.7 414.8,189.6 416.6,188.4 418.3,187.2 419.9,185.9 421.5,184.6 423.1,183.2 424.5,181.8 425.9,180.4 427.2,179.0 428.3,177.6 429.3,176.2 430.2,174.8 431.0,173.5 431.6,172.2 432.1,171.0 432.5,169.9 432.6,168.8 432.7,167.8 432.5,166.9 432.3,166.1 431.8,165.4" fill="#ff4545"/>
<polygon points="478.8,163.9 478.5,163.7 478.0,163.7 477.4,163.8 476.6,164.1 475.7,164.4 474.7,164.9 473.6,165.5 472.3,166.2 471.0,167.0 469.5,167.9 468.0,168.9 466.4,169.9 464.7,171.1 463.0,172.3 461.3,173.6 459.5,174.9 457.8,176.3 456.0,177.7 454.3,179.1 452.6,180.5 450.9,181.9 449.4,183.3 447.8,184.7 446.4,186.0 445.1,187.3 443.8,188.5 442.7,189.7 441.7,190.8 440.9,191.8 440.2,192.7 439.6,193.5 439.1,194.3 438.8,194.9 438.7,195.4 438.7,195.8 438.9,196.0 439.2,196.2 439.7,196.2 440.3,196.1 441.1,195.8 442.0,195.5 443.0,195.0 444.1,194.4 445.4,193.7 446.8,192.9 448.2,192.0 449.7,191.0 451.4,190.0 453.0,188.8 454.7,187.6 456.4,186.3 458.2,185.0 460.0,183.6 461.7,182.2 463.4,180.8 465.1,179.4 466.8,178.0 468.4,176.6 469.9,175.2 471.3,173.9 472.6,172.6 473.9,171.4 475.0,170.2 476.0,169.1 476.8,168.1 477.6,167.2 478.1,166.4 478.6,165.6 478.9,165.0 479.0,164.5 479.0,164.1" fill="#ff0a0a"/>
<polygon points="521.3,167.0 520.2,166.2 519.0,165.5 517.6,164.9 516.2,164.4 514.7,164.1 513.1,163.8 511.5,163.7 509.8,163.7 508.0,163.9 506.3,164.1 504.5,164.5 502.8,165.0 501.0,165.6 499.3,166.4 497.7,167.2 496.1,168.1 494.6,169.1 493.1,170.2 491.7,171.4 490.5,172.6 489.3,173.9 488.3,175.2 487.4,176.6 486.7,178.0 486.0,179.4 485.6,180.8 485.2,182.2 485.1,183.6 485.0,185.0 485.2,186.3 485.5,187.6 485.9,188.8 486.5,190.0 487.2,191.0 488.1,192.0 489.1,192.9 490.2,193.7 491.4,194.4 492.7,195.0 494.2,195.5 495.7,195.8 497.3,196.1 498.9,196.2 500.6,196.2 502.3,196.0 504.1,195.8 505.9,195.4 507.6,194.9 509.3,194.3 511.0,193.5 512.7,192.7 514.3,191.8 515.8,190.8 517.3,189.7 518.6,188.5 519.9,187.3 521.1,186.0 522.1,184.7 523.0,183.3 523.7,181.9 524.4,180.5 524.8,179.1 525.1,177.7 525.3,176.3 525.3,174.9 525.2,173.6 524.9,172.3 524.5,171.1 523.9,169.9 523.2,168.9 522.3,167.9" fill="#ffb8b8"/>
<polygon points="560.0,173.2 558.3,171.9 556.7,170.7 554.9,169.6 553.2,168.5 551.4,167.6 549.7,166.7 547.9,165.9 546.2,165.3 544.5,164.7 542.9,164.3 541.4,164.0 539.9,163.8 538.5,163.7 537.2,163.8 536.0,164.0 535.0,164.3 534.0,164.7 533.2,165.2 532.6,165.9 532.0,166.6 531.7,167.5 531.4,168.4 531.4,169.5 531.5,170.6 531.7,171.8 532.1,173.0 532.6,174.3 533.3,175.7 534.1,177.1 535.1,178.5 536.2,179.9 537.3,181.3 538.6,182.7 540.0,184.1 541.5,185.4 543.1,186.7 544.7,188.0 546.4,189.2 548.1,190.3 549.9,191.4 551.6,192.3 553.4,193.2 555.1,194.0 556.8,194.6 558.5,195.2 560.1,195.6 561.7,195.9 563.2,196.1 564.6,196.2 565.9,196.1 567.0,195.9 568.1,195.6 569.0,195.2 569.8,194.7 570.5,194.0 571.0,193.3 571.4,192.4 571.6,191.5 571.7,190.4 571.6,189.3 571.4,188.1 571.0,186.9 570.4,185.6 569.8,184.2 568.9,182.8 568.0,181.4 566.9,180.0 565.7,178.6 564.4,177.2 563.0,175.8 561.5,174.5" fill="#5959bb"/>
<polygon points="382.8,203.9 381.8,203.1 380.6,202.5 379.3,202.0 377.9,201.5 376.4,201.2 374.9,201.1 373.3,201.0 371.6,201.1 369.9,201.3 368.1,201.6 366.4,202.1 364.6,202.6 362.9,203.3 361.2,204.0 359.5,204.9 357.8,205.9 356.3,206.9 354.8,208.1 353.4,209.3 352.1,210.5 350.9,211.8 349.8,213.2 348.8,214.6 348.0,216.0 347.3,217.4 346.8,218.8 346.4,220.2 346.1,221.6 346.0,222.9 346.1,224.2 346.3,225.5 346.7,226.7 347.2,227.8 347.8,228.8 348.6,229.8 349.6,230.6 350.6,231.4 351.8,232.0 353.1,232.5 354.5,233.0 355.9,233.3 357.5,233.4 359.1,233.5 360.8,233.4 362.5,233.2 364.2,232.9 366.0,232.4 367.8,231.9 369.5,231.2 371.2,230.5 372.9,229.6 374.5,228.6 376.1,227.6 377.6,226.4 379.0,225.2 380.3,224.0 381.5,222.7 382.6,221.3 383.5,219.9 384.4,218.5 385.1,217.1 385.6,215.7 386.0,214.3 386.2,212.9 386.3,211.6 386.3,210.3 386.1,209.0 385.7,207.8 385.2,206.7 384.5,205.7 383.7,204.7" fill="#ffa3a3"/>
<polygon points="430.1,203.1 429.2,202.5 428.1,201.9 426.9,201.5 425.7,201.2 424.3,201.1 422.8,201.0 421.3,201.1 419.6,201.3 418.0,201.6 416.3,202.1 414.5,202.6 412.8,203.3 411.0,204.1 409.3,204.9 407.5,205.9 405.8,207.0 404.2,208.1 402.6,209.3 401.2,210.6 399.7,211.9 398.4,213.2 397.2,214.6 396.1,216.0 395.2,217.4 394.4,218.9 393.7,220.3 393.1,221.6 392.7,223.0 392.5,224.3 392.4,225.5 392.4,226.7 392.6,227.8 393.0,228.9 393.5,229.8 394.2,230.6 395.0,231.4 395.9,232.0 396.9,232.6 398.1,233.0 399.4,233.3 400.8,233.4 402.2,233.5 403.8,233.4 405.4,233.2 407.1,232.9 408.8,232.4 410.5,231.9 412.3,231.2 414.0,230.4 415.8,229.6 417.5,228.6 419.2,227.5 420.8,226.4 422.4,225.2 423.9,223.9 425.3,222.6 426.6,221.3 427.8,219.9 428.9,218.5 429.9,217.1 430.7,215.6 431.4,214.2 431.9,212.9 432.3,211.5 432.6,210.2 432.7,209.0 432.6,207.8 432.4,206.7 432.1,205.6 431.5,204.7 430.9,203.9" fill="#ff7a7a"/>
<polygon points="478.1,201.8 477.5,201.4 476.7,201.2 475.9,201.0 474.9,201.0 473.7,201.2 472.5,201.4 471.1,201.8 469.7,202.3 468.2,202.9 466.6,203.6 464.9,204.4 463.2,205.3 461.5,206.3 459.8,207.4 458.0,208.5 456.2,209.8 454.5,211.1 452.8,212.4 451.2,213.7 449.6,215.1 448.0,216.6 446.6,218.0 445.3,219.4 444.0,220.8 442.9,222.1 441.9,223.5 441.0,224.8 440.2,226.0 439.6,227.1 439.2,228.2 438.9,229.2 438.7,230.1 438.7,230.9 438.9,231.6 439.2,232.2 439.6,232.7 440.2,233.1 441.0,233.3 441.9,233.5 442.9,233.5 444.0,233.3 445.2,233.1 446.6,232.7 448.0,232.2 449.5,231.6 451.1,230.9 452.8,230.1 454.5,229.2 456.2,228.2 458.0,227.1 459.7,226.0 461.5,224.7 463.2,223.4 464.9,222.1 466.6,220.8 468.2,219.4 469.7,217.9 471.1,216.5 472.5,215.1 473.7,213.7 474.8,212.4 475.9,211.0 476.7,209.7 477.5,208.5 478.1,207.4 478.5,206.3 478.8,205.3 479.0,204.4 479.0,203.6 478.8,202.9 478.5,202.3" fill="#ff2e2e"/>
<polygon points="519.1,206.0 517.8,205.1 516.4,204.2 514.9,203.4 513.3,202.7 511.6,202.1 510.0,201.7 508.2,201.3 506.5,201.1 504.7,201.0 503.0,201.1 501.2,201.2 499.5,201.5 497.9,201.9 496.2,202.4 494.7,203.0 493.2,203.7 491.9,204.6 490.6,205.5 489.5,206.5 488.4,207.6 487.5,208.8 486.7,210.0 486.1,211.3 485.6,212.7 485.3,214.1 485.1,215.5 485.0,216.9 485.2,218.3 485.4,219.7 485.9,221.1 486.4,222.4 487.1,223.8 488.0,225.0 489.0,226.2 490.1,227.4 491.3,228.5 492.6,229.4 494.0,230.3 495.5,231.1 497.1,231.8 498.7,232.4 500.4,232.8 502.2,233.2 503.9,233.4 505.7,233.5 507.4,233.4 509.2,233.3 510.9,233.0 512.5,232.6 514.1,232.1 515.7,231.5 517.1,230.8 518.5,229.9 519.8,229.0 520.9,228.0 522.0,226.9 522.9,225.7 523.7,224.5 524.3,223.2 524.8,221.8 525.1,220.4 525.3,219.0 525.3,217.6 525.2,216.2 525.0,214.8 524.5,213.4 524.0,212.1 523.3,210.7 522.4,209.5 521.4,208.3 520.3,207.1" fill="#f3f3fa"/>
<polygon points="562.8,208.2 561.3,207.1 559.7,206.0 558.0,205.0 556.4,204.2 554.6,203.4 552.9,202.7 551.1,202.1 549.4,201.7 547.6,201.3 545.9,201.1 544.3,201.0 542.6,201.1 541.1,201.2 539.6,201.5 538.3,201.9 537.0,202.4 535.8,203.0 534.8,203.8 533.9,204.6 533.1,205.5 532.5,206.6 532.0,207.7 531.6,208.9 531.4,210.1 531.4,211.4 531.5,212.7 531.8,214.1 532.2,215.5 532.7,216.9 533.4,218.3 534.3,219.7 535.3,221.1 536.4,222.5 537.6,223.8 538.9,225.1 540.3,226.3 541.8,227.4 543.4,228.5 545.0,229.5 546.7,230.3 548.4,231.1 550.2,231.8 551.9,232.4 553.7,232.8 555.4,233.2 557.1,233.4 558.8,233.5 560.4,233.4 562.0,233.3 563.4,233.0 564.8,232.6 566.1,232.1 567.2,231.5 568.3,230.7 569.2,229.9 570.0,229.0 570.6,227.9 571.1,226.8 571.4,225.6 571.6,224.4 571.7,223.1 571.6,221.8 571.3,220.4 570.9,219.0 570.3,217.6 569.6,216.2 568.8,214.8 567.8,213.4 566.7,212.0 565.5,210.7 564.2,209.4" fill="#9e9ed7"/>
<polygon points="428.7,241.5 427.6,240.7 426.4,240.0 425.1,239.5 423.6,239.0 422.1,238.7 420.5,238.4 418.9,238.3 417.2,238.4 415.5,238.5 413.7,238.8 412.0,239.2 410.2,239.7 408.5,240.3 406.8,241.0 405.1,241.8 403.5,242.8 402.0,243.8 400.5,244.9 399.1,246.1 397.9,247.3 396.7,248.6 395.7,249.9 394.8,251.3 394.0,252.7 393.4,254.1 392.9,255.5 392.6,256.9 392.4,258.3 392.4,259.7 392.5,261.0 392.8,262.3 393.2,263.5 393.8,264.6 394.5,265.7 395.3,266.7 396.3,267.6 397.4,268.4 398.7,269.1 400.0,269.6 401.4,270.1 402.9,270.4 404.5,270.7 406.2,270.8 407.8,270.7 409.6,270.6 411.3,270.3 413.1,269.9 414.8,269.4 416.6,268.8 418.3,268.1 419.9,267.3 421.5,266.3 423.1,265.3 424.5,264.2 425.9,263.0 427.2,261.8 428.3,260.5 429.3,259.2 430.2,257.8 431.0,256.4 431.6,255.0 432.1,253.6 432.5,252.2 432.6,250.8 432.7,249.4 432.5,248.1 432.3,246.8 431.8,245.6 431.3,244.5 430.6,243.4 429.7,242.4" fill="#ffb5b5"/>
<polygon points="476.1,240.7 475.1,240.0 474.0,239.4 472.8,239.0 471.5,238.6 470.0,238.4 468.5,238.3 467.0,238.4 465.3,238.5 463.6,238.8 461.9,239.2 460.2,239.7 458.4,240.3 456.6,241.1 454.9,241.9 453.2,242.8 451.5,243.8 449.9,244.9 448.4,246.1 446.9,247.4 445.6,248.7 444.3,250.0 443.1,251.4 442.1,252.8 441.2,254.2 440.4,255.6 439.8,257.0 439.3,258.4 438.9,259.8 438.7,261.1 438.7,262.3 438.8,263.6 439.1,264.7 439.5,265.8 440.1,266.7 440.8,267.6 441.6,268.4 442.6,269.1 443.7,269.7 444.9,270.1 446.3,270.5 447.7,270.7 449.2,270.8 450.8,270.7 452.4,270.6 454.1,270.3 455.8,269.9 457.6,269.4 459.3,268.8 461.1,268.0 462.8,267.2 464.5,266.3 466.2,265.3 467.8,264.2 469.3,263.0 470.8,261.7 472.2,260.4 473.4,259.1 474.6,257.7 475.6,256.3 476.5,254.9 477.3,253.5 478.0,252.1 478.4,250.7 478.8,249.3 479.0,248.0 479.0,246.8 478.9,245.5 478.6,244.4 478.2,243.3 477.6,242.4 476.9,241.5" fill="#ff8a8a"/>
<polygon points="520.6,242.1 519.4,241.3 518.1,240.5 516.7,239.9 515.2,239.3 513.7,238.9 512.1,238.6 510.4,238.4 508.7,238.3 506.9,238.4 505.2,238.6 503.4,238.9 501.7,239.3 499.9,239.8 498.3,240.5 496.6,241.2 495.1,242.1 493.6,243.1 492.2,244.1 490.9,245.2 489.7,246.4 488.7,247.7 487.7,249.0 486.9,250.3 486.2,251.7 485.7,253.1 485.3,254.5 485.1,255.9 485.0,257.3 485.1,258.7 485.4,260.1 485.7,261.4 486.3,262.6 486.9,263.8 487.8,265.0 488.7,266.0 489.8,267.0 491.0,267.8 492.3,268.6 493.7,269.2 495.1,269.8 496.7,270.2 498.3,270.5 500.0,270.7 501.7,270.8 503.5,270.7 505.2,270.5 507.0,270.2 508.7,269.8 510.4,269.3 512.1,268.6 513.7,267.9 515.3,267.0 516.8,266.0 518.2,265.0 519.5,263.9 520.7,262.7 521.7,261.4 522.7,260.1 523.5,258.8 524.1,257.4 524.7,256.0 525.1,254.6 525.3,253.2 525.4,251.8 525.3,250.4 525.0,249.0 524.7,247.7 524.1,246.5 523.4,245.3 522.6,244.1 521.7,243.1" fill="#ffd4d4"/>
<polygon points="563.2,245.2 561.7,244.0 560.2,243.0 558.5,242.1 556.9,241.2 555.2,240.4 553.4,239.8 551.7,239.3 549.9,238.9 548.2,238.6 546.4,238.4 544.8,238.3 543.1,238.4 541.6,238.6 540.1,238.9 538.7,239.3 537.4,239.9 536.2,240.6 535.1,241.3 534.1,242.2 533.3,243.2 532.6,244.2 532.1,245.3 531.7,246.5 531.5,247.8 531.4,249.1 531.4,250.5 531.7,251.8 532.0,253.2 532.5,254.7 533.2,256.1 534.0,257.5 534.9,258.8 536.0,260.2 537.2,261.5 538.5,262.8 539.9,263.9 541.3,265.1 542.9,266.1 544.5,267.0 546.2,267.9 547.9,268.7 549.6,269.3 551.4,269.8 553.2,270.2 554.9,270.5 556.6,270.7 558.3,270.8 559.9,270.7 561.5,270.5 563.0,270.2 564.4,269.8 565.7,269.2 566.9,268.5 568.0,267.8 568.9,266.9 569.7,265.9 570.4,264.9 571.0,263.8 571.4,262.6 571.6,261.3 571.7,260.0 571.6,258.6 571.4,257.3 571.0,255.9 570.5,254.4 569.9,253.0 569.1,251.6 568.1,250.3 567.1,248.9 565.9,247.6 564.6,246.3" fill="#ababdc"/>
<polygon points="477.7,276.7 477.0,276.3 476.1,275.9 475.1,275.7 474.0,275.6 472.8,275.7 471.5,275.8 470.1,276.1 468.6,276.5 467.0,277.0 465.4,277.6 463.7,278.4 462.0,279.2 460.2,280.2 458.5,281.2 456.7,282.3 455.0,283.5 453.3,284.7 451.6,286.0 450.0,287.3 448.4,288.7 447.0,290.1 445.6,291.5 444.3,292.9 443.2,294.4 442.1,295.7 441.2,297.1 440.4,298.4 439.8,299.7 439.3,300.9 438.9,302.0 438.7,303.1 438.7,304.1 438.8,305.0 439.1,305.7 439.5,306.4 440.1,307.0 440.8,307.4 441.6,307.8 442.6,308.0 443.7,308.1 444.9,308.0 446.2,307.9 447.6,307.6 449.1,307.2 450.7,306.7 452.3,306.1 454.0,305.3 455.8,304.5 457.5,303.5 459.3,302.5 461.0,301.4 462.8,300.2 464.5,299.0 466.1,297.7 467.7,296.4 469.3,295.0 470.7,293.6 472.1,292.2 473.4,290.8 474.6,289.3 475.6,288.0 476.5,286.6 477.3,285.3 477.9,284.0 478.4,282.8 478.8,281.7 479.0,280.6 479.0,279.6 478.9,278.7 478.6,278.0 478.2,277.3" fill="#ff4242"/>
<polygon points="521.8,278.5 520.8,277.7 519.6,277.1 518.3,276.6 516.9,276.1 515.4,275.8 513.9,275.7 512.3,275.6 510.6,275.7 508.9,275.9 507.1,276.2 505.4,276.7 503.6,277.2 501.9,277.9 500.2,278.6 498.5,279.5 496.9,280.5 495.3,281.5 493.8,282.7 492.4,283.9 491.1,285.1 489.9,286.4 488.8,287.8 487.8,289.2 487.0,290.6 486.3,292.0 485.8,293.4 485.4,294.8 485.1,296.2 485.0,297.5 485.1,298.8 485.3,300.1 485.7,301.3 486.2,302.4 486.8,303.4 487.6,304.4 488.6,305.2 489.6,306.0 490.8,306.6 492.1,307.1 493.5,307.6 495.0,307.9 496.5,308.0 498.1,308.1 499.8,308.0 501.5,307.8 503.2,307.5 505.0,307.0 506.8,306.5 508.5,305.8 510.2,305.1 511.9,304.2 513.5,303.2 515.1,302.2 516.6,301.0 518.0,299.8 519.3,298.6 520.5,297.3 521.6,295.9 522.6,294.5 523.4,293.1 524.1,291.7 524.6,290.3 525.0,288.9 525.3,287.5 525.4,286.2 525.3,284.9 525.1,283.6 524.7,282.4 524.2,281.3 523.5,280.3 522.7,279.3" fill="#ffa3a3"/>
<polygon points="560.9,284.3 559.3,283.1 557.6,281.9 555.9,280.9 554.2,279.9 552.5,279.0 550.7,278.1 548.9,277.4 547.2,276.8 545.5,276.4 543.9,276.0 542.3,275.8 540.7,275.6 539.3,275.6 537.9,275.8 536.7,276.0 535.6,276.4 534.6,276.9 533.7,277.5 532.9,278.2 532.3,279.0 531.9,279.9 531.6,280.9 531.4,282.0 531.4,283.2 531.5,284.4 531.8,285.7 532.3,287.0 532.9,288.4 533.6,289.8 534.5,291.2 535.5,292.6 536.6,294.0 537.9,295.4 539.2,296.8 540.7,298.1 542.2,299.4 543.8,300.6 545.4,301.8 547.1,302.8 548.9,303.8 550.6,304.7 552.4,305.6 554.1,306.3 555.9,306.9 557.6,307.3 559.2,307.7 560.8,307.9 562.3,308.1 563.8,308.1 565.1,307.9 566.4,307.7 567.5,307.3 568.5,306.8 569.4,306.2 570.1,305.5 570.7,304.7 571.2,303.8 571.5,302.8 571.7,301.7 571.7,300.5 571.5,299.3 571.2,298.0 570.8,296.7 570.2,295.3 569.4,293.9 568.6,292.5 567.5,291.1 566.4,289.7 565.2,288.3 563.8,286.9 562.4,285.6" fill="#6e6ec3"/>
<polygon points="521.1,316.4 519.9,315.6 518.7,314.8 517.3,314.2 515.9,313.7 514.3,313.3 512.7,313.1 511.1,312.9 509.4,312.9 507.6,313.0 505.9,313.3 504.1,313.6 502.4,314.1 500.6,314.7 498.9,315.4 497.3,316.2 495.7,317.1 494.2,318.1 492.8,319.1 491.4,320.3 490.2,321.5 489.1,322.8 488.1,324.1 487.2,325.5 486.5,326.9 485.9,328.3 485.5,329.7 485.2,331.1 485.1,332.5 485.1,333.9 485.2,335.2 485.6,336.5 486.0,337.7 486.6,338.9 487.4,340.0 488.3,341.0 489.3,341.9 490.5,342.7 491.7,343.5 493.1,344.1 494.5,344.6 496.1,345.0 497.7,345.2 499.3,345.4 501.0,345.4 502.8,345.3 504.5,345.0 506.3,344.7 508.0,344.2 509.7,343.6 511.4,342.9 513.1,342.1 514.7,341.2 516.2,340.2 517.6,339.2 519.0,338.0 520.2,336.8 521.3,335.5 522.3,334.2 523.2,332.8 523.9,331.4 524.5,330.0 524.9,328.6 525.2,327.2 525.3,325.8 525.3,324.4 525.2,323.1 524.8,321.8 524.4,320.6 523.7,319.4 523.0,318.3 522.1,317.3" fill="#ffc2c2"/>
<polygon points="560.3,322.1 558.7,320.8 557.0,319.6 555.3,318.5 553.6,317.5 551.8,316.6 550.1,315.7 548.3,315.0 546.6,314.3 544.9,313.8 543.3,313.4 541.7,313.1 540.2,313.0 538.8,312.9 537.5,313.0 536.3,313.2 535.2,313.5 534.2,314.0 533.4,314.5 532.7,315.2 532.1,316.0 531.7,316.9 531.5,317.8 531.4,318.9 531.4,320.0 531.6,321.2 532.0,322.5 532.5,323.8 533.1,325.2 533.9,326.6 534.9,328.0 535.9,329.4 537.1,330.8 538.4,332.2 539.7,333.6 541.2,334.9 542.7,336.2 544.4,337.5 546.0,338.7 547.7,339.8 549.5,340.8 551.2,341.7 553.0,342.6 554.7,343.3 556.5,344.0 558.1,344.5 559.8,344.9 561.4,345.2 562.8,345.3 564.3,345.4 565.6,345.3 566.8,345.1 567.9,344.8 568.8,344.3 569.7,343.8 570.4,343.1 570.9,342.3 571.3,341.4 571.6,340.5 571.7,339.4 571.6,338.3 571.4,337.1 571.1,335.8 570.6,334.5 569.9,333.1 569.1,331.7 568.2,330.3 567.2,328.9 566.0,327.5 564.7,326.1 563.3,324.7 561.9,323.4" fill="#6161be"/>
<polygon points="562.5,357.6 561.0,356.5 559.4,355.4 557.7,354.4 556.0,353.5 554.3,352.7 552.6,352.0 550.8,351.4 549.0,350.9 547.3,350.6 545.6,350.3 543.9,350.2 542.3,350.2 540.8,350.4 539.4,350.6 538.0,351.0 536.8,351.5 535.6,352.1 534.6,352.8 533.7,353.6 533.0,354.6 532.4,355.6 531.9,356.7 531.6,357.8 531.4,359.1 531.4,360.3 531.5,361.7 531.8,363.0 532.3,364.4 532.9,365.9 533.6,367.3 534.5,368.7 535.5,370.1 536.6,371.4 537.8,372.8 539.2,374.0 540.6,375.3 542.1,376.4 543.7,377.5 545.3,378.5 547.0,379.4 548.8,380.2 550.5,380.9 552.3,381.5 554.0,382.0 555.8,382.3 557.5,382.6 559.1,382.7 560.7,382.7 562.2,382.5 563.7,382.3 565.0,381.9 566.3,381.4 567.4,380.8 568.5,380.1 569.3,379.3 570.1,378.3 570.7,377.3 571.2,376.2 571.5,375.1 571.7,373.8 571.7,372.6 571.5,371.2 571.2,369.9 570.8,368.5 570.2,367.0 569.5,365.6 568.6,364.2 567.6,362.8 566.5,361.5 565.3,360.1 563.9,358.9" fill="#9696d4"/>
<text x="366.2" y="35.5" font-size="15.2" text-anchor="middle" fill="#151515">0.94</text>
<text x="505.2" y="35.5" font-size="15.2" text-anchor="middle" fill="#151515">0.49</text>
<text x="227.2" y="72.8" font-size="15.2" text-anchor="middle" fill="#151515">0.91</text>
<text x="366.2" y="110.1" font-size="15.2" text-anchor="middle" fill="#151515">0.20</text>
<text x="505.2" y="110.1" font-size="15.2" text-anchor="middle" fill="#151515">0.37</text>
<text x="319.9" y="147.4" font-size="15.2" text-anchor="middle" fill="#151515">0.31</text>
<text x="366.2" y="147.4" font-size="15.2" text-anchor="middle" fill="#151515">0.86</text>
<text x="412.5" y="147.4" font-size="15.2" text-anchor="middle" fill="#151515">0.93</text>
<text x="458.9" y="147.4" font-size="15.2" text-anchor="middle" fill="#151515">0.063</text>
<text x="505.2" y="147.4" font-size="15.2" text-anchor="middle" fill="#151515">0.19</text>
<text x="551.5" y="147.4" font-size="15.2" text-anchor="middle" fill="#151515">0.89</text>
<text x="505.2" y="184.8" font-size="15.2" text-anchor="middle" fill="#151515">0.13</text>
<text x="366.2" y="222.0" font-size="15.2" text-anchor="middle" fill="#151515">0.050</text>
<text x="505.2" y="222.0" font-size="15.2" text-anchor="middle" fill="#151515">0.80</text>
<text x="412.5" y="259.3" font-size="15.2" text-anchor="middle" fill="#151515">0.12</text>
<text x="505.2" y="259.3" font-size="15.2" text-anchor="middle" fill="#151515">0.37</text>
<text x="551.5" y="259.3" font-size="15.2" text-anchor="middle" fill="#151515">0.073</text>
<text x="505.2" y="296.7" font-size="15.2" text-anchor="middle" fill="#151515">0.053</text>
<text x="505.2" y="333.9" font-size="15.2" text-anchor="middle" fill="#151515">0.21</text>
<text x="87.9" y="71.8" font-size="13.5" text-anchor="middle" fill="#ff6b6b">0.58</text>
<text x="87.9" y="109.0" font-size="13.5" text-anchor="middle" fill="#ff6363">0.61</text>
<text x="134.2" y="109.0" font-size="13.5" text-anchor="middle" fill="#ff6363">0.61</text>
<text x="87.9" y="146.3" font-size="13.5" text-anchor="middle" fill="#ff9999">0.40</text>
<text x="134.2" y="146.3" font-size="13.5" text-anchor="middle" fill="#fff9f9">0.022</text>
<text x="180.5" y="146.3" font-size="13.5" text-anchor="middle" fill="#ff4f4f">0.69</text>
<text x="87.9" y="183.6" font-size="13.5" text-anchor="middle" fill="#ff4040">0.75</text>
<text x="134.2" y="183.6" font-size="13.5" text-anchor="middle" fill="#ff3d3d">0.76</text>
<text x="180.5" y="183.6" font-size="13.5" text-anchor="middle" fill="#ff3333">0.80</text>
<text x="226.9" y="183.6" font-size="13.5" text-anchor="middle" fill="#ff8f8f">0.44</text>
<text x="87.9" y="220.9" font-size="13.5" text-anchor="middle" fill="#ff6363">0.61</text>
<text x="134.2" y="220.9" font-size="13.5" text-anchor="middle" fill="#ff7a7a">0.52</text>
<text x="180.5" y="220.9" font-size="13.5" text-anchor="middle" fill="#ff9494">0.42</text>
<text x="226.9" y="220.9" font-size="13.5" text-anchor="middle" fill="#ffcfcf">0.19</text>
<text x="273.2" y="220.9" font-size="13.5" text-anchor="middle" fill="#ff5252">0.68</text>
<text x="87.9" y="258.2" font-size="13.5" text-anchor="middle" fill="#fbfbfe">-0.014</text>
<text x="134.2" y="258.2" font-size="13.5" text-anchor="middle" fill="#ff9696">0.41</text>
<text x="180.5" y="258.2" font-size="13.5" text-anchor="middle" fill="#ffc2c2">0.24</text>
<text x="226.9" y="258.2" font-size="13.5" text-anchor="middle" fill="#fff6f6">0.036</text>
<text x="273.2" y="258.2" font-size="13.5" text-anchor="middle" fill="#ffa1a1">0.37</text>
<text x="319.6" y="258.2" font-size="13.5" text-anchor="middle" fill="#ffa3a3">0.36</text>
<text x="87.9" y="295.6" font-size="13.5" text-anchor="middle" fill="#ff8a8a">0.46</text>
<text x="134.2" y="295.6" font-size="13.5" text-anchor="middle" fill="#ff6666">0.60</text>
<text x="180.5" y="295.6" font-size="13.5" text-anchor="middle" fill="#ff9494">0.42</text>
<text x="226.9" y="295.6" font-size="13.5" text-anchor="middle" fill="#fafafd">-0.018</text>
<text x="273.2" y="295.6" font-size="13.5" text-anchor="middle" fill="#ff4545">0.73</text>
<text x="319.6" y="295.6" font-size="13.5" text-anchor="middle" fill="#ff7a7a">0.52</text>
<text x="365.9" y="295.6" font-size="13.5" text-anchor="middle" fill="#ffb5b5">0.29</text>
<text x="87.9" y="332.8" font-size="13.5" text-anchor="middle" fill="#ff4242">0.74</text>
<text x="134.2" y="332.8" font-size="13.5" text-anchor="middle" fill="#ff4040">0.75</text>
<text x="180.5" y="332.8" font-size="13.5" text-anchor="middle" fill="#ff4545">0.73</text>
<text x="226.9" y="332.8" font-size="13.5" text-anchor="middle" fill="#ffa8a8">0.34</text>
<text x="273.2" y="332.8" font-size="13.5" text-anchor="middle" fill="#ff0a0a">0.96</text>
<text x="319.6" y="332.8" font-size="13.5" text-anchor="middle" fill="#ff2e2e">0.82</text>
<text x="365.9" y="332.8" font-size="13.5" text-anchor="middle" fill="#ff8a8a">0.46</text>
<text x="412.2" y="332.8" font-size="13.5" text-anchor="middle" fill="#ff4242">0.74</text>
<text x="87.9" y="370.1" font-size="13.5" text-anchor="middle" fill="#ffdede">0.13</text>
<text x="134.2" y="370.1" font-size="13.5" text-anchor="middle" fill="#ff9e9e">0.38</text>
<text x="180.5" y="370.1" font-size="13.5" text-anchor="middle" fill="#ffd4d4">0.17</text>
<text x="226.9" y="370.1" font-size="13.5" text-anchor="middle" fill="#bfbfe5">-0.25</text>
<text x="273.2" y="370.1" font-size="13.5" text-anchor="middle" fill="#ffb8b8">0.28</text>
<text x="319.6" y="370.1" font-size="13.5" text-anchor="middle" fill="#f3f3fa">-0.047</text>
<text x="365.9" y="370.1" font-size="13.5" text-anchor="middle" fill="#ffd4d4">0.17</text>
<text x="412.2" y="370.1" font-size="13.5" text-anchor="middle" fill="#ffa3a3">0.36</text>
<text x="458.6" y="370.1" font-size="13.5" text-anchor="middle" fill="#ffc2c2">0.24</text>
<text x="87.9" y="407.4" font-size="13.5" text-anchor="middle" fill="#9191d2">-0.43</text>
<text x="134.2" y="407.4" font-size="13.5" text-anchor="middle" fill="#2626a6">-0.85</text>
<text x="116.6" y="404.9" font-size="20" font-weight="bold" text-anchor="middle" fill="#000">*</text>
<text x="180.5" y="407.4" font-size="13.5" text-anchor="middle" fill="#7373c5">-0.55</text>
<text x="162.9" y="404.9" font-size="20" font-weight="bold" text-anchor="middle" fill="#000">*</text>
<text x="226.9" y="407.4" font-size="13.5" text-anchor="middle" fill="#fff8f8">0.026</text>
<text x="273.2" y="407.4" font-size="13.5" text-anchor="middle" fill="#5959bb">-0.65</text>
<text x="255.6" y="404.9" font-size="20" font-weight="bold" text-anchor="middle" fill="#000">*</text>
<text x="319.6" y="407.4" font-size="13.5" text-anchor="middle" fill="#9e9ed7">-0.38</text>
<text x="365.9" y="407.4" font-size="13.5" text-anchor="middle" fill="#ababdc">-0.33</text>
<text x="412.2" y="407.4" font-size="13.5" text-anchor="middle" fill="#6e6ec3">-0.57</text>
<text x="394.6" y="404.9" font-size="20" font-weight="bold" text-anchor="middle" fill="#000">*</text>
<text x="458.6" y="407.4" font-size="13.5" text-anchor="middle" fill="#6161be">-0.62</text>
<text x="441.0" y="404.9" font-size="20" font-weight="bold" text-anchor="middle" fill="#000">*</text>
<text x="504.9" y="407.4" font-size="13.5" text-anchor="middle" fill="#9696d4">-0.41</text>
<text x="88.2" y="34.9" font-size="13.7" text-anchor="middle" fill="#151515">pH</text>
<text x="134.5" y="72.1" font-size="13.7" text-anchor="middle" fill="#151515">EC</text>
<text x="180.8" y="109.4" font-size="13.7" text-anchor="middle" fill="#151515">TN</text>
<text x="227.2" y="146.7" font-size="13.7" text-anchor="middle" fill="#151515">TC</text>
<text x="273.5" y="184.0" font-size="13.7" text-anchor="middle" fill="#151515">K+</text>
<text x="319.9" y="221.3" font-size="13.7" text-anchor="middle" fill="#151515">Ca2+</text>
<text x="366.2" y="258.6" font-size="13.7" text-anchor="middle" fill="#151515">Mg2+</text>
<text x="412.5" y="296.0" font-size="13.7" text-anchor="middle" fill="#151515">Na+</text>
<text x="458.9" y="333.2" font-size="13.7" text-anchor="middle" fill="#151515">Sum</text>
<text x="505.2" y="370.6" font-size="13.7" text-anchor="middle" fill="#151515">P2O5</text>
<text x="551.5" y="407.9" font-size="13.7" text-anchor="middle" fill="#151515">Pb</text>
<text x="55.3" y="35.6" font-size="17.2" text-anchor="end" fill="#000">pH</text>
<text x="55.3" y="73.0" font-size="17.2" text-anchor="end" fill="#000">EC</text>
<text x="55.3" y="110.2" font-size="17.2" text-anchor="end" fill="#000">TN</text>
<text x="55.3" y="147.5" font-size="17.2" text-anchor="end" fill="#000">TC</text>
<text x="55.3" y="184.8" font-size="17.2" text-anchor="end" fill="#000">K+</text>
<text x="55.3" y="222.1" font-size="17.2" text-anchor="end" fill="#000">Ca2+</text>
<text x="55.3" y="259.4" font-size="17.2" text-anchor="end" fill="#000">Mg2+</text>
<text x="55.3" y="296.8" font-size="17.2" text-anchor="end" fill="#000">Na+</text>
<text x="55.3" y="334.0" font-size="17.2" text-anchor="end" fill="#000">Sum</text>
<text x="55.3" y="371.3" font-size="17.2" text-anchor="end" fill="#000">P2O5</text>
<text x="55.3" y="408.6" font-size="17.2" text-anchor="end" fill="#000">Pb</text>
<text transform="translate(101.2,442.5) rotate(-45)" font-size="17.8" text-anchor="end" fill="#000">pH</text>
<text transform="translate(147.5,442.5) rotate(-45)" font-size="17.8" text-anchor="end" fill="#000">EC</text>
<text transform="translate(193.8,442.5) rotate(-45)" font-size="17.8" text-anchor="end" fill="#000">TN</text>
<text transform="translate(240.2,442.5) rotate(-45)" font-size="17.8" text-anchor="end" fill="#000">TC</text>
<text transform="translate(286.5,442.5) rotate(-45)" font-size="17.8" text-anchor="end" fill="#000">K+</text>
<text transform="translate(332.9,442.5) rotate(-45)" font-size="17.8" text-anchor="end" fill="#000">Ca2+</text>
<text transform="translate(379.2,442.5) rotate(-45)" font-size="17.8" text-anchor="end" fill="#000">Mg2+</text>
<text transform="translate(425.5,442.5) rotate(-45)" font-size="17.8" text-anchor="end" fill="#000">Na+</text>
<text transform="translate(471.9,442.5) rotate(-45)" font-size="17.8" text-anchor="end" fill="#000">Sum</text>
<text transform="translate(518.2,442.5) rotate(-45)" font-size="17.8" text-anchor="end" fill="#000">P2O5</text>
<text transform="translate(564.5,442.5) rotate(-45)" font-size="17.8" text-anchor="end" fill="#000">Pb</text>
<path d="M65.0,385.09999999999997V11.7H574.7V385.09999999999997" stroke="#000" stroke-width="1.7" fill="none"/>
<rect x="65.2" y="385.0" width="509.9" height="37.5" stroke="#1aab54" stroke-width="2.5" fill="none" filter="url(#sh)"/>
<rect x="581.4" y="11.4" width="29.2" height="410.8" fill="url(#cb)"/>
<rect x="581.4" y="11.4" width="29.2" height="410.8" stroke="#222" stroke-width="1" fill="none"/>
<text x="622.7" y="14.5" font-size="11.6" fill="#1a1a1a">1.0</text>
<text x="622.7" y="55.6" font-size="11.6" fill="#1a1a1a">0.80</text>
<text x="622.7" y="96.7" font-size="11.6" fill="#1a1a1a">0.60</text>
<text x="622.7" y="137.7" font-size="11.6" fill="#1a1a1a">0.40</text>
<text x="622.7" y="178.8" font-size="11.6" fill="#1a1a1a">0.20</text>
<text x="622.7" y="219.9" font-size="11.6" fill="#1a1a1a">0.0</text>
<text x="622.7" y="261.0" font-size="11.6" fill="#1a1a1a">-0.20</text>
<text x="622.7" y="302.1" font-size="11.6" fill="#1a1a1a">-0.40</text>
<text x="622.7" y="343.1" font-size="11.6" fill="#1a1a1a">-0.60</text>
<text x="622.7" y="384.2" font-size="11.6" fill="#1a1a1a">-0.80</text>
<text x="622.7" y="425.3" font-size="11.6" fill="#1a1a1a">-1.0</text>
<path d="M610.6,11.4H618.3M610.6,52.5H618.3M610.6,93.6H618.3M610.6,134.6H618.3M610.6,175.7H618.3M610.6,216.8H618.3M610.6,257.9H618.3M610.6,299.0H618.3M610.6,340.0H618.3M610.6,381.1H618.3M610.6,422.2H618.3" stroke="#000" stroke-width="1.4" fill="none"/>
<text transform="translate(660.1,215.3) rotate(90)" font-size="21.4" font-weight="bold" text-anchor="middle" fill="#000">Correlation Index</text>
</svg></body></html>
